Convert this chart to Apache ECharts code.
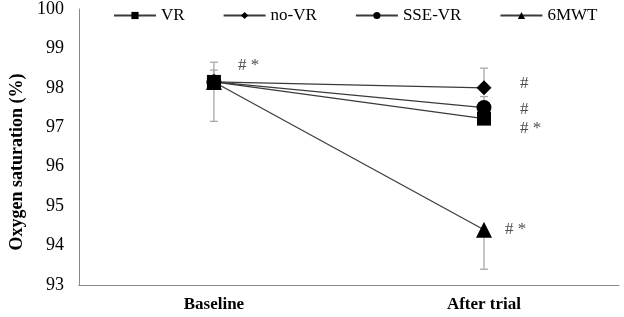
<!DOCTYPE html>
<html>
<head>
<meta charset="utf-8">
<script src="https://cdn.jsdelivr.net/npm/echarts@6/dist/echarts.min.js"></script>
<style>
	html, body { margin: 0; padding: 0; background: #fff; }
	#chart { width: 624px; height: 317px; }
</style>
</head>
<body>
<div id="chart"></div>
<script>
	// categories / series
	const categories = ['Baseline', 'After trial'];
	const seriesNames = ['VR', 'no-VR', 'SSE-VR', '6MWT'];
	const vrValues = [98.15, 97.22];
	const noVrValues = [98.15, 98.0];
	const sseVrValues = [98.15, 97.5];
	const sixMwtValues = [98.15, 94.4];

	// error bars: [category index, from, to]
	const errorBars = [
		[0, 98.15, 98.65],
		[0, 98.15, 98.45],
		[0, 98.15, 97.15],
		[1, 98.0, 98.5],
		[1, 97.5, 97.78],
		[1, 94.4, 93.4]
	];

	// significance marks: [category index, value, text]
	const marks = [
		[0, 98.57, '# *'],
		[1, 98.1, '#'],
		[1, 97.46, '#'],
		[1, 96.97, '# *'],
		[1, 94.4, '# *']
	];

	const yTicks = [93, 94, 95, 96, 97, 98, 99, 100];

	const font = 'Liberation Serif';
	let chart = echarts.init(document.getElementById('chart'));

	let lineSeries = function(name, data, symbol, size){
		return {
			name: name,
			type: 'line',
			data: data,
			symbol: symbol,
			symbolSize: size,
			z: 5,
			itemStyle: { color: '#000' },
			lineStyle: { color: '#3a3a3a', width: 1.2 }
		};
	};

	// horizontal offsets of the marks (px)
	const markDx = [19, 31, 31, 31, 16];

	let option = {
		animation: false,
		textStyle: { fontFamily: font },
		legend: {
			top: 2,
			left: 108,
			itemWidth: 42,
			itemHeight: 9,
			itemGap: 38,
			textStyle: { fontFamily: font, fontSize: 17, color: '#000' },
			data: seriesNames
		},
		grid: { left: 68, right: 5, top: 9, bottom: 32 },
		xAxis: {
			type: 'category',
			data: categories,
			boundaryGap: true,
			axisTick: { show: false },
			axisLine: { lineStyle: { color: '#888', width: 1 } },
			axisLabel: { fontFamily: font, fontSize: 17, fontWeight: 'bold', color: '#000', margin: 11 }
		},
		yAxis: {
			type: 'value',
			min: yTicks[0],
			max: yTicks[yTicks.length - 1],
			interval: 1,
			splitLine: { show: false },
			axisTick: { show: false },
			axisLine: { show: true, lineStyle: { color: '#888', width: 1 } },
			axisLabel: { fontFamily: font, fontSize: 18, color: '#000', margin: 15 },
			name: 'Oxygen saturation (%)',
			nameLocation: 'middle',
			nameGap: 50,
			nameTextStyle: { fontFamily: font, fontSize: 18, fontWeight: 'bold', color: '#000', padding: [0, 30, 0, 0] }
		},
		series: [
			{
				type: 'custom',
				name: 'err',
				z: 2,
				data: errorBars,
				renderItem: function(params, api){
					let p1 = api.coord([api.value(0), api.value(1)]);
					let p2 = api.coord([api.value(0), api.value(2)]);
					let c = 4;
					let st = { stroke: '#a8a8a8', lineWidth: 1.3 };
					return {
						type: 'group',
						children: [
							{ type: 'line', shape: { x1: p1[0], y1: p1[1], x2: p2[0], y2: p2[1] }, style: st },
							{ type: 'line', shape: { x1: p2[0] - c, y1: p2[1], x2: p2[0] + c, y2: p2[1] }, style: st }
						]
					};
				}
			},
			lineSeries('VR', vrValues, 'rect', 14),
			lineSeries('no-VR', noVrValues, 'diamond', 15),
			lineSeries('SSE-VR', sseVrValues, 'circle', 15),
			lineSeries('6MWT', sixMwtValues, 'triangle', 16),
			{
				type: 'scatter',
				name: 'marks',
				symbolSize: 0,
				z: 6,
				data: marks.map(function(m, i){
					return {
						value: [m[0], m[1]],
						label: {
							show: true,
							position: 'right',
							offset: [markDx[i], 0],
							formatter: m[2],
							fontFamily: font,
							fontSize: 17,
							color: '#222'
						}
					};
				})
			}
		]
	};
	chart.setOption(option);
</script>
</body>
</html>
